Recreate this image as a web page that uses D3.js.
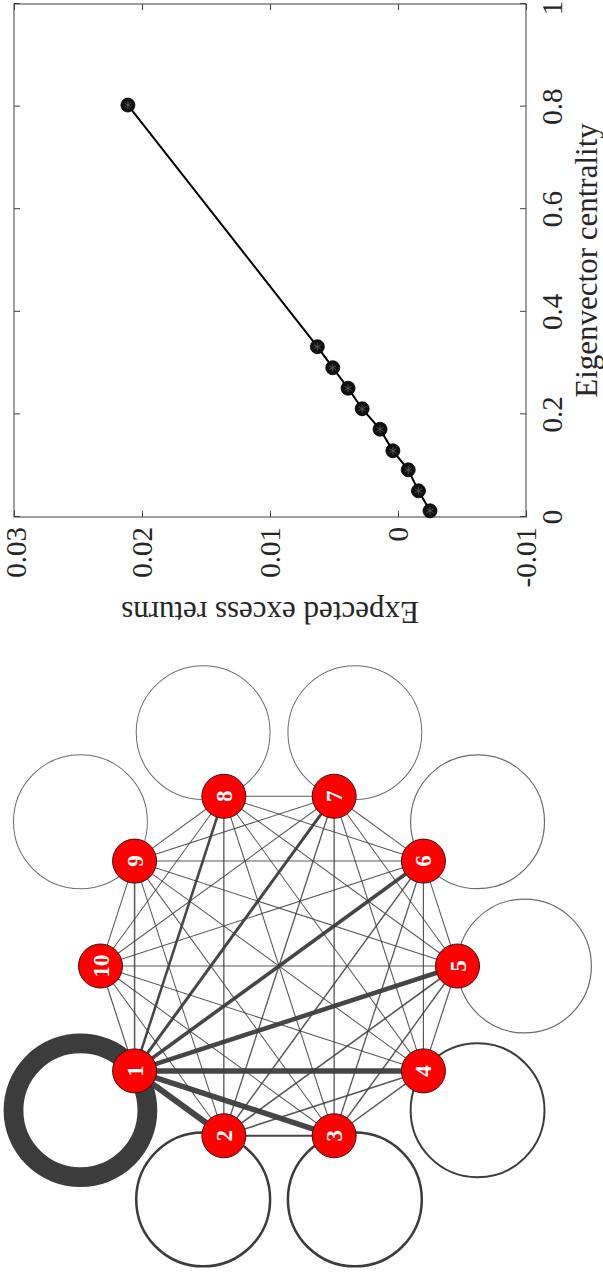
<!DOCTYPE html>
<html>
<head>
<meta charset="utf-8">
<script src="https://cdn.jsdelivr.net/npm/d3@7"></script>
<style>
  html, body { margin: 0; padding: 0; background: #fff; }
  svg { display: block; }
  text { font-family: "Liberation Serif", "DejaVu Serif", serif; }
</style>
</head>
<body>
<div id="fig"></div>
<script>
// Right panel: expected excess returns against eigenvector centrality.
var eigenCentrality = [0.803, 0.332, 0.291, 0.251, 0.211, 0.171, 0.129, 0.092, 0.051, 0.012];
var excessReturns = [0.0211, 0.0063, 0.0051, 0.0039, 0.0028, 0.0014, 0.0004, -0.0008, -0.0016, -0.0025];
var eigenTicks = [0, 0.2, 0.4, 0.6, 0.8, 1];
var eigenTickLabels = ["0", "0.2", "0.4", "0.6", "0.8", "1"];
var returnTicks = [-0.01, 0, 0.01, 0.02, 0.03];
var returnTickLabels = ["-0.01", "0", "0.01", "0.02", "0.03"];

// Left panel: weighted network, complete graph with self loops.
var nodeLabels = ["1", "2", "3", "4", "5", "6", "7", "8", "9", "10"];
var edgeFrom = [1,1,1,1,1,1,1,1,1, 2,2,2,2,2,2,2,2, 3,3,3,3,3,3,3, 4,4,4,4,4,4, 5,5,5,5,5, 6,6,6,6, 7,7,7, 8,8, 9];
var edgeTo   = [2,3,4,5,6,7,8,9,10, 3,4,5,6,7,8,9,10, 4,5,6,7,8,9,10, 5,6,7,8,9,10, 6,7,8,9,10, 7,8,9,10, 8,9,10, 9,10, 10];
var edgeWeight = [1.0, 0.92, 0.92, 0.75, 0.6, 0.5, 0.42, 0.25, 0.2,
                  0.33, 0.27, 0.27, 0.25, 0.22, 0.22, 0.17, 0.17,
                  0.25, 0.24, 0.22, 0.22, 0.18, 0.17, 0.17,
                  0.2, 0.2, 0.18, 0.17, 0.17, 0.17,
                  0.17, 0.17, 0.17, 0.17, 0.17,
                  0.17, 0.17, 0.17, 0.17,
                  0.17, 0.17, 0.17,
                  0.17, 0.17,
                  0.17];
var loopWeight = [3.3, 0.42, 0.42, 0.33, 0.2, 0.2, 0.17, 0.17, 0.17, 0];

var W = 1273, H = 603; // figure is drawn landscape, then turned a quarter.

var svg = d3.select("#fig").append("svg")
  .attr("width", 603)
  .attr("height", 1273);

var fig = svg.append("g")
  .attr("transform", "translate(0," + W + ") rotate(-90)");

// ---- scatter / line panel ----
var x = d3.scaleLinear().domain([0, 1]).range([756, 1269]);
var y = d3.scaleLinear().domain([-0.01, 0.03]).range([526, 14]);
var AX = "#404040";

var plot = fig.append("g");

function styleAxis(g) {
  g.select(".domain").remove();
  g.selectAll(".tick line").attr("stroke", AX);
  g.selectAll("text").remove();
}

plot.append("g").attr("transform", "translate(0," + y.range()[0] + ")")
  .call(d3.axisBottom(x).tickValues(eigenTicks).tickSize(-6)).call(styleAxis);
plot.append("g").attr("transform", "translate(0," + y.range()[1] + ")")
  .call(d3.axisTop(x).tickValues(eigenTicks).tickSize(-6)).call(styleAxis);
plot.append("g").attr("transform", "translate(" + x.range()[0] + ",0)")
  .call(d3.axisLeft(y).tickValues(returnTicks).tickSize(-6)).call(styleAxis);
plot.append("g").attr("transform", "translate(" + x.range()[1] + ",0)")
  .call(d3.axisRight(y).tickValues(returnTicks).tickSize(-6)).call(styleAxis);

plot.append("rect")
  .attr("x", x.range()[0]).attr("y", y.range()[1])
  .attr("width", x.range()[1] - x.range()[0])
  .attr("height", y.range()[0] - y.range()[1])
  .attr("fill", "none").attr("stroke", AX).attr("stroke-width", 1);

// labels at the very edge of the page are pulled in a few pixels
plot.selectAll(".xlab").data(eigenTicks).enter().append("text")
  .attr("class", "xlab")
  .attr("x", function(d) { return Math.min(x(d), W - 8); })
  .attr("y", 562)
  .attr("text-anchor", "middle")
  .attr("font-size", 29)
  .attr("fill", "#262626")
  .text(function(d, i) { return eigenTickLabels[i]; });

plot.selectAll(".ylab").data(returnTicks).enter().append("text")
  .attr("class", "ylab")
  .attr("x", 746)
  .attr("y", function(d) { return Math.max(y(d), 16); })
  .attr("dy", "0.35em")
  .attr("text-anchor", "end")
  .attr("font-size", 29)
  .attr("fill", "#262626")
  .text(function(d, i) { return returnTickLabels[i]; });

plot.append("text")
  .attr("x", (x.range()[0] + x.range()[1]) / 2)
  .attr("y", 597)
  .attr("text-anchor", "middle")
  .attr("font-size", 31)
  .attr("fill", "#262626")
  .text("Eigenvector centrality");

plot.append("text")
  .attr("transform", "translate(671," + (y.range()[0] + y.range()[1]) / 2 + ") rotate(-90)")
  .attr("text-anchor", "middle")
  .attr("font-size", 31)
  .attr("fill", "#262626")
  .text("Expected excess returns");

var pts = eigenCentrality.map(function(e, i) { return { e: e, r: excessReturns[i] }; })
  .sort(function(a, b) { return a.e - b.e; });

var line = d3.line()
  .x(function(d) { return x(d.e); })
  .y(function(d) { return y(d.r); });

plot.append("path")
  .datum(pts)
  .attr("d", line)
  .attr("fill", "none")
  .attr("stroke", "#000")
  .attr("stroke-width", 2);

var mk = plot.selectAll(".mk").data(pts).enter().append("g")
  .attr("class", "mk")
  .attr("transform", function(d) { return "translate(" + x(d.e) + "," + y(d.r) + ")"; });
mk.append("circle").attr("r", 7).attr("fill", "#111").attr("stroke", "#000").attr("stroke-width", 0.8);
[0, 60, 120].forEach(function(a) {
  var c = Math.cos(a * Math.PI / 180) * 4, s = Math.sin(a * Math.PI / 180) * 4;
  mk.append("line").attr("x1", -c).attr("y1", -s).attr("x2", c).attr("y2", s)
    .attr("stroke", "#6a6a6a").attr("stroke-width", 0.7);
});

// ---- network panel ----
var R = 178.5;
var gx = d3.scaleLinear().domain([-1, 1]).range([307 - R, 307 + R]);
var gy = d3.scaleLinear().domain([-1, 1]).range([279 - R, 279 + R]);
var widthScale = d3.scaleLinear().domain([0, 1]).range([0, 6]);
var LOOP = 0.375; // loop radius in layout units

// circle layout, going round from node 1
var nodes = nodeLabels.map(function(lab, i) {
  var phi = (270 - 36 * (i + 1)) * Math.PI / 180;
  return { id: i + 1, label: lab, ux: Math.cos(phi), uy: Math.sin(phi), loop: loopWeight[i] };
});

var net = fig.append("g");

net.selectAll(".loop").data(nodes.filter(function(d) { return d.loop > 0; }))
  .enter().append("circle")
  .attr("class", "loop")
  .attr("cx", function(d) { return gx(d.ux * (1 + LOOP)); })
  .attr("cy", function(d) { return gy(d.uy * (1 + LOOP)); })
  .attr("r", gx(LOOP) - gx(0))
  .attr("fill", "none")
  .attr("stroke", "#3c3c3c")
  .attr("stroke-opacity", function(d) { return d.loop > 0.3 ? 1 : 0.75; })
  .attr("stroke-width", function(d) { return widthScale(d.loop); });

var edges = edgeFrom.map(function(f, i) {
  return { s: nodes[f - 1], t: nodes[edgeTo[i] - 1], w: edgeWeight[i] };
}).sort(function(a, b) { return a.w - b.w; });

net.selectAll(".edge").data(edges).enter().append("line")
  .attr("class", "edge")
  .attr("x1", function(d) { return gx(d.s.ux); })
  .attr("y1", function(d) { return gy(d.s.uy); })
  .attr("x2", function(d) { return gx(d.t.ux); })
  .attr("y2", function(d) { return gy(d.t.uy); })
  .attr("stroke", "#3c3c3c")
  .attr("stroke-opacity", function(d) { return d.w > 0.3 ? 0.95 : 0.85; })
  .attr("stroke-width", function(d) { return widthScale(d.w); });

var node = net.selectAll(".node").data(nodes).enter().append("g")
  .attr("class", "node")
  .attr("transform", function(d) { return "translate(" + gx(d.ux) + "," + gy(d.uy) + ")"; });

node.append("circle")
  .attr("r", 22)
  .attr("fill", "#ff0000")
  .attr("stroke", "#3a1010")
  .attr("stroke-width", 1);

node.append("text")
  .attr("text-anchor", "middle")
  .attr("dy", "0.35em")
  .attr("font-size", 23)
  .attr("font-weight", "bold")
  .attr("fill", "#fff")
  .text(function(d) { return d.label; });
</script>
</body>
</html>
